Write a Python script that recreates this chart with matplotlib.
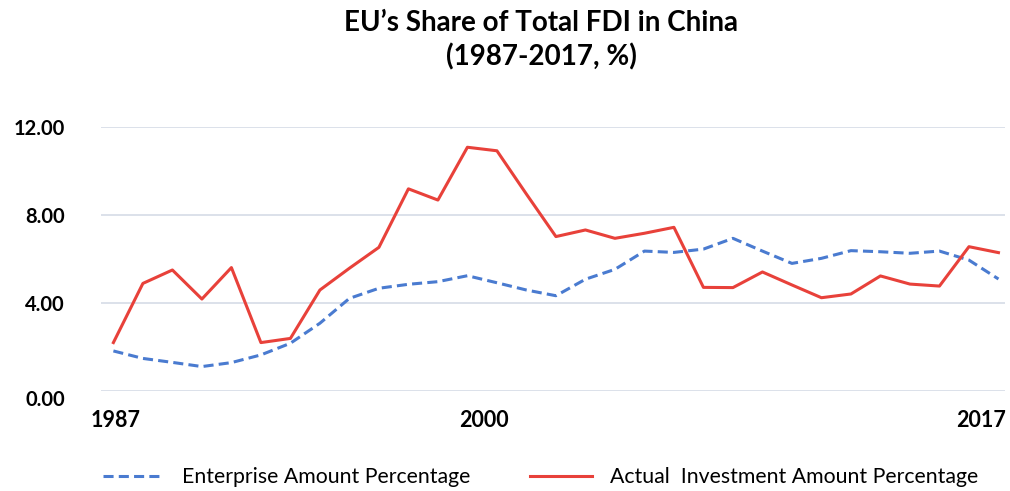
import matplotlib.pyplot as plt
from matplotlib.transforms import ScaledTranslation

plt.rcParams['font.family'] = ['Lato', 'DejaVu Sans']

# data
years = list(range(1987, 2018))
enterprise_pct = [1.82, 1.48, 1.30, 1.11, 1.29, 1.64, 2.17, 3.08, 4.21, 4.67,
                  4.85, 4.97, 5.24, 4.92, 4.59, 4.33, 5.08, 5.53, 6.36, 6.30,
                  6.45, 6.94, 6.36, 5.80, 6.03, 6.38, 6.33, 6.26, 6.36, 5.95,
                  5.09]
investment_pct = [2.20, 4.89, 5.50, 4.18, 5.61, 2.20, 2.39, 4.59, 5.58, 6.53,
                  9.19, 8.68, 11.08, 10.92, 8.95, 7.02, 7.32, 6.94, 7.17, 7.44,
                  4.71, 4.70, 5.41, 4.82, 4.24, 4.41, 5.23, 4.86, 4.77, 6.56,
                  6.29]
yticks = [0, 4, 8, 12]
xticks = [1987, 2000, 2017]

fig = plt.figure(figsize=(10.1, 4.91), dpi=100)
ax = fig.add_axes([0.100, 0.2037, 0.895, 0.5376])

ax.plot(years, enterprise_pct, color='#4A7BD0', lw=2.2, ls=(0, (3.3, 1.7)),
        label='Enterprise Amount Percentage')
ax.plot(years, investment_pct, color='#E8413A', lw=2.2,
        label='Actual  Investment Amount Percentage')

ax.set_xlim(1986.58, 2017.22)
ax.set_ylim(0, 12)
ax.set_yticks(yticks)
ax.set_yticklabels([f'{v:.2f}' for v in yticks], fontsize=14.5, fontweight='bold')
ax.set_xticks(xticks)
ax.set_xticklabels([str(x) for x in xticks], fontsize=15.5, fontweight='bold')
ax.tick_params(axis='y', length=0, pad=26)
ax.tick_params(axis='x', length=0, pad=14)
ax.grid(axis='y', color='#D9DEE8', lw=1.3)
ax.set_axisbelow(True)
for s in ax.spines.values():
    s.set_visible(False)

# nudge x labels like the original
offsets = [0.02, -0.13, -0.17]
for lab, dx in zip(ax.get_xticklabels(), offsets):
    lab.set_transform(lab.get_transform() + ScaledTranslation(dx, 0, fig.dpi_scale_trans))
labs = ax.get_yticklabels()
labs[0].set_transform(labs[0].get_transform() + ScaledTranslation(0, -0.07, fig.dpi_scale_trans))

fig.text(0.536, 0.953, 'EU\u2019s Share of Total FDI in China', ha='center', va='center',
         fontsize=20, fontweight='bold')
fig.text(0.536, 0.885, '(1987-2017, %)', ha='center', va='center',
         fontsize=20, fontweight='bold')

fig.legend(loc='center', bbox_to_anchor=(0.535, 0.028), ncol=2, frameon=False,
           fontsize=15.3, handlelength=2.9, handletextpad=0.85, columnspacing=2.8)

fig.savefig('out.png', dpi=100)
